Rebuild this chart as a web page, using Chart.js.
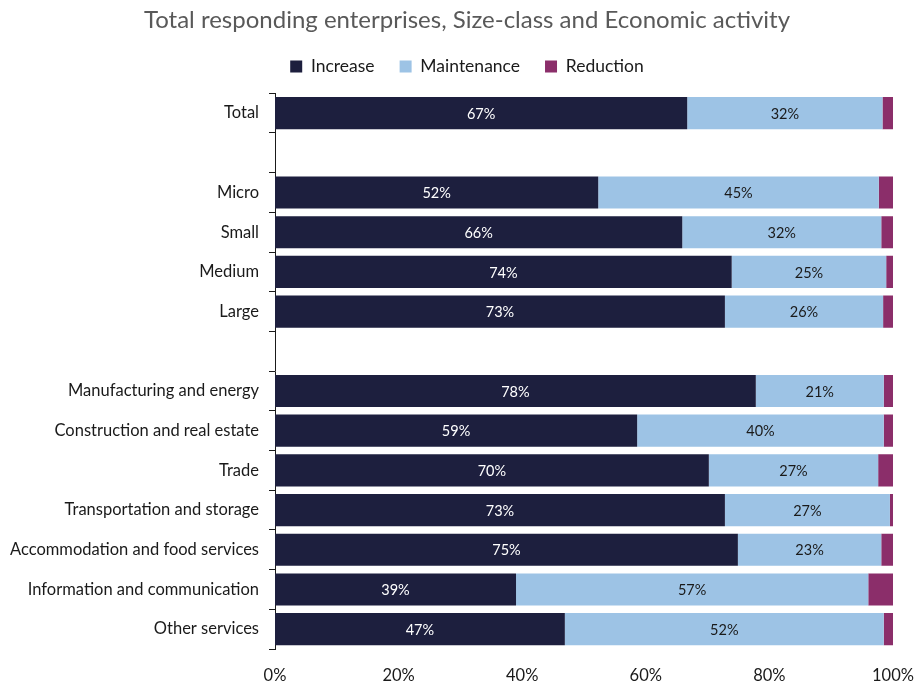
<!doctype html>
<html lang="en">
  <head>
    <meta charset="UTF-8" />
    <title>Total responding enterprises</title>
    <script src="https://cdn.jsdelivr.net/npm/chart.js"></script>
    <style>
      html, body { margin: 0; padding: 0; background: #fff; }
      .chart-container { position: relative; width: 914px; height: 682px; }
    </style>
  </head>
  <body>
    <div class="chart-container">
      <canvas id="barChart"></canvas>
    </div>

    <script>
      // categories (blank entries are the gaps between groups)
      const categories = [
        "Total", "",
        "Micro", "Small", "Medium", "Large", "",
        "Manufacturing and energy",
        "Construction and real estate",
        "Trade",
        "Transportation and storage",
        "Accommodation and food services",
        "Information and communication",
        "Other services",
      ];
      const increase = [66.7, null, 52.3, 65.9, 73.9, 72.8, null, 77.8, 58.6, 70.2, 72.8, 74.9, 39.0, 46.9];
      const maintenance = [31.6, null, 45.4, 32.2, 25.0, 25.6, null, 20.7, 39.9, 27.4, 26.7, 23.2, 57.0, 51.6];
      const reduction = [1.7, null, 2.3, 1.9, 1.1, 1.6, null, 1.5, 1.5, 2.4, 0.5, 1.9, 4.0, 1.5];
      const xTicks = [0, 20, 40, 60, 80, 100];

      const fontFamily = "Lato, 'Open Sans', sans-serif";

      // draws the % labels inside the Increase and Maintenance bars
      const barLabels = {
        id: "barLabels",
        afterDatasetsDraw(chart) {
          const ctx = chart.ctx;
          ctx.save();
          ctx.font = "14.5px " + fontFamily;
          ctx.textAlign = "center";
          ctx.textBaseline = "middle";
          [0, 1].forEach((di) => {
            const meta = chart.getDatasetMeta(di);
            const values = chart.data.datasets[di].data;
            meta.data.forEach((bar, i) => {
              if (values[i] == null) return;
              const p = bar.getCenterPoint();
              ctx.fillStyle = di === 0 ? "#ffffff" : "#1a1a1a";
              ctx.fillText(Math.round(values[i]) + "%", p.x, p.y + 1);
            });
          });
          ctx.restore();
        },
      };

      // title and legend sit a bit right of the canvas middle and higher
      // than the plot top would put them
      const shiftHeader = {
        id: "shiftHeader",
        afterLayout(chart) {
          [chart.titleBlock, chart.legend].forEach((box) => {
            box.left += 10;
            box.right += 10;
            box.top -= 8;
            box.bottom -= 8;
          });
        },
      };

      const ctx = document.getElementById("barChart").getContext("2d");
      new Chart(ctx, {
        type: "bar",
        data: {
          labels: categories,
          datasets: [
            { label: "Increase", data: increase, backgroundColor: "#1d1f3e" },
            { label: "Maintenance", data: maintenance, backgroundColor: "#9dc3e5" },
            { label: "Reduction", data: reduction, backgroundColor: "#8b2e6a" },
          ],
        },
        options: {
          indexAxis: "y",
          responsive: true,
          maintainAspectRatio: false,
          animation: false,
          datasets: {
            bar: {
              barPercentage: 0.81,
              categoryPercentage: 1,
              borderWidth: 0,
            },
          },
          layout: { padding: { top: 14, right: 0, bottom: 0, left: 0 } },
          plugins: {
            title: {
              display: true,
              text: "Total responding enterprises, Size-class and Economic activity",
              color: "#595959",
              font: { family: fontFamily, size: 24, weight: "normal" },
              padding: { top: 0, bottom: -2 },
            },
            legend: {
              labels: {
                boxWidth: 12,
                boxHeight: 12,
                color: "#1a1a1a",
                font: { family: fontFamily, size: 17.5 },
                padding: 25,
              },
            },
            tooltip: { enabled: false },
          },
          scales: {
            x: {
              stacked: true,
              min: 0,
              max: 100,
              afterBuildTicks(axis) {
                axis.ticks = xTicks.map((v) => ({ value: v }));
              },
              afterFit(axis) {
                axis.paddingRight = 21;
                axis.paddingLeft = 0;
                axis.height = 33;
              },
              ticks: {
                color: "#1a1a1a",
                font: { family: fontFamily, size: 16.5 },
                padding: 17,
                callback: (v) => v + "%",
              },
              grid: { display: false, drawTicks: false },
              border: { display: false },
            },
            y: {
              stacked: true,
              afterFit(axis) {
                axis.width = 275;
                axis.paddingTop = 0;
                axis.paddingBottom = 0;
              },
              ticks: {
                color: "#1a1a1a",
                font: { family: fontFamily, size: 16.5 },
                padding: 10,
              },
              grid: {
                offset: true,
                drawOnChartArea: false,
                tickLength: 6,
                color: "#1a1a1a",
              },
              border: { display: true, color: "#1a1a1a" },
            },
          },
        },
        plugins: [barLabels, shiftHeader],
      });
    </script>
  </body>
</html>
